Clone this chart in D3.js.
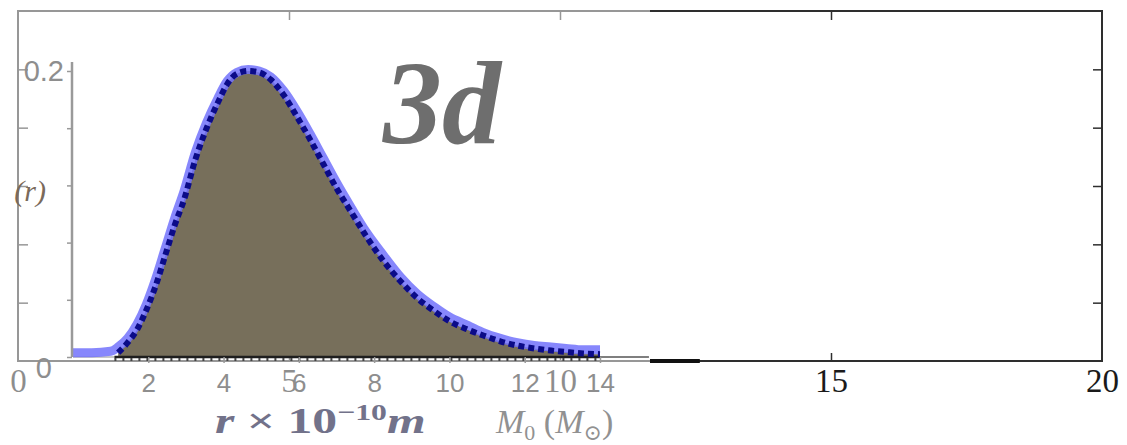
<!DOCTYPE html>
<html>
<head>
<meta charset="utf-8">
<script src="https://cdn.jsdelivr.net/npm/d3@7"></script>
<style>
  body { margin: 0; background: #fff; }
  svg { display: block; }
</style>
</head>
<body>
<svg id="chart" width="1127" height="445"></svg>
<script>
// Outer frame: initial mass axis
const massTicks = [0, 5, 10, 15, 20];
const frameYTicks = [1, 2, 3, 4, 5];

// Inner panel: radial distribution in 3d
const radiusTicks = [2, 4, 6, 8, 10, 12, 14];
const probTicks = [0, 0.04, 0.08, 0.12, 0.16, 0.2];
const probLabels = { 0: "0", 0.2: "0.2" };

// Sampled distribution (dark dotted curve, shaded area)
const simR = [1.2, 1.45, 1.7, 1.95, 2.2, 2.45, 2.7, 2.95, 3.25, 3.55, 3.85, 4.1, 4.35, 4.65, 4.95,
  5.25, 5.6, 5.95, 6.3, 6.65, 7.0, 7.4, 7.8, 8.25, 8.7, 9.15, 9.6, 10.0, 10.5, 10.9, 11.35, 11.8,
  12.25, 12.7, 13.1, 13.55, 14.0];
const simP = [0.003, 0.010, 0.019, 0.033, 0.050, 0.071, 0.092, 0.110, 0.138, 0.160, 0.178, 0.191,
  0.198, 0.200, 0.199, 0.194, 0.183, 0.168, 0.152, 0.135, 0.118, 0.101, 0.084, 0.067, 0.053, 0.041,
  0.032, 0.025, 0.019, 0.015, 0.011, 0.008, 0.006, 0.0045, 0.0035, 0.0025, 0.002];

// Analytic curve (light blue)
const fitR = [0, 0.5, 1.0, 1.2, 1.45, 1.7, 1.95, 2.2, 2.45, 2.7, 2.95, 3.25, 3.55, 3.85, 4.1, 4.35,
  4.65, 4.95, 5.25, 5.6, 5.95, 6.3, 6.65, 7.0, 7.4, 7.8, 8.25, 8.7, 9.15, 9.6, 10.0, 10.5, 10.9,
  11.35, 11.8, 12.25, 12.7, 13.1, 13.55, 14.0];
const fitP = [0.003, 0.003, 0.004, 0.007, 0.013, 0.023, 0.037, 0.055, 0.076, 0.097, 0.116, 0.143,
  0.164, 0.181, 0.193, 0.199, 0.201, 0.200, 0.196, 0.186, 0.172, 0.156, 0.139, 0.122, 0.104, 0.087,
  0.071, 0.056, 0.044, 0.035, 0.028, 0.022, 0.017, 0.013, 0.010, 0.008, 0.007, 0.006, 0.005, 0.005];

const svg = d3.select("#chart");

// ---------- outer frame ----------
const xM = d3.scaleLinear().domain([0, 20]).range([18, 1102]);
const yF = d3.scaleLinear().domain([0, 6]).range([361, 11]);
const frameInk = "#2e2e2e";
const serif = "'Liberation Serif', 'DejaVu Serif', serif";

const outer = svg.append("g");
outer.append("rect")
  .attr("x", xM(0)).attr("y", yF(6))
  .attr("width", xM(20) - xM(0)).attr("height", yF(0) - yF(6))
  .attr("fill", "none").attr("stroke", frameInk).attr("stroke-width", 2);

function styleFrameAxis(g) {
  g.select(".domain").remove();
  g.selectAll(".tick line").attr("stroke", frameInk).attr("stroke-width", 1.5);
  g.selectAll(".tick text").attr("fill", "#1a1a1a")
    .style("font-family", serif).style("font-size", "33px");
}

outer.append("g").attr("transform", `translate(0,${yF(0)})`)
  .call(d3.axisBottom(xM).tickValues(massTicks).tickSize(-8).tickPadding(8))
  .call(styleFrameAxis)
  .selectAll(".tick line").attr("opacity", d => (d === 0 || d === 20) ? 0 : 1);

outer.append("g").attr("transform", `translate(0,${yF(6)})`)
  .call(d3.axisTop(xM).tickValues(massTicks.slice(1, -1)).tickSize(-9).tickFormat(""))
  .call(styleFrameAxis);

outer.append("g").attr("transform", `translate(${xM(20)},0)`)
  .call(d3.axisRight(yF).tickValues(frameYTicks).tickSize(-9).tickFormat(""))
  .call(styleFrameAxis);

outer.append("g").attr("transform", `translate(${xM(0)},0)`)
  .call(d3.axisLeft(yF).tickValues(frameYTicks).tickSize(-10).tickFormat(""))
  .call(styleFrameAxis);

// heavier stroke where the baseline continues past the panel
outer.append("line")
  .attr("x1", xM(11.66)).attr("x2", xM(12.58))
  .attr("y1", yF(0)).attr("y2", yF(0))
  .attr("stroke", "#111").attr("stroke-width", 4);

// x-axis title of the frame: M0 (M_sun)
const mTitle = outer.append("text")
  .attr("x", 496).attr("y", 433)
  .attr("fill", "#222")
  .style("font-family", serif).style("font-size", "34px").style("font-style", "italic");
mTitle.append("tspan").text("M");
mTitle.append("tspan").attr("dy", 7).style("font-size", "22px").style("font-style", "normal").text("0");
mTitle.append("tspan").attr("dy", -7).style("font-style", "normal").text(" (");
mTitle.append("tspan").text("M");
mTitle.append("tspan").attr("dy", 7).style("font-size", "22px").style("font-style", "normal").text("⊙");
mTitle.append("tspan").attr("dy", -7).style("font-style", "normal").text(")");

// lighter wash over the left part, behind the inset panel
svg.append("rect")
  .attr("x", 0).attr("y", 0).attr("width", 650).attr("height", 445)
  .attr("fill", "#fff").attr("opacity", 0.5);

// ---------- inner panel ----------
const xR = d3.scaleLinear().domain([0, 14]).range([73, 600]);
const yP = d3.scaleLinear().domain([0, 0.2]).range([357, 71]);
const sans = "'Liberation Sans', Arial, sans-serif";
const panelGrey = "#8e8e8e";

const inner = svg.append("g");

const sim = simR.map((r, i) => ({ r, p: simP[i] }));
const fit = fitR.map((r, i) => ({ r, p: fitP[i] }));

// light baseline left of the shaded region
inner.append("line")
  .attr("x1", xR(0)).attr("x2", xR(1.1))
  .attr("y1", yP(0)).attr("y2", yP(0))
  .attr("stroke", "#c8c8c8").attr("stroke-width", 2);

// shaded area under the sampled distribution
inner.append("path")
  .datum(sim)
  .attr("fill", "#776f5b")
  .attr("d", d3.area().x(d => xR(d.r)).y0(yP(0)).y1(d => yP(d.p)).curve(d3.curveMonotoneX));

// dark baseline with fine ticks under the area
inner.append("line")
  .attr("x1", xR(1.1)).attr("x2", xR(14))
  .attr("y1", yP(0)).attr("y2", yP(0))
  .attr("stroke", "#1e1e1e").attr("stroke-width", 2.5);
inner.append("line")
  .attr("x1", xR(1.1)).attr("x2", xR(14))
  .attr("y1", yP(0) + 2.5).attr("y2", yP(0) + 2.5)
  .attr("stroke", "#444").attr("stroke-width", 3).attr("stroke-dasharray", "2 6");
inner.append("line")
  .attr("x1", xR(14)).attr("x2", xR(15.3))
  .attr("y1", yP(0)).attr("y2", yP(0))
  .attr("stroke", "#555").attr("stroke-width", 1.5);

// analytic curve
inner.append("path")
  .datum(fit)
  .attr("fill", "none")
  .attr("stroke", "#7272fb").attr("stroke-opacity", 0.85)
  .attr("stroke-width", 9).attr("stroke-linejoin", "round")
  .attr("d", d3.line().x(d => xR(d.r)).y(d => yP(d.p)).curve(d3.curveMonotoneX));

// sampled curve, dotted
inner.append("path")
  .datum(sim)
  .attr("fill", "none")
  .attr("stroke", "#0b0b88")
  .attr("stroke-width", 6).attr("stroke-dasharray", "6 4")
  .attr("d", d3.line().x(d => xR(d.r)).y(d => yP(d.p)).curve(d3.curveMonotoneX));

// x axis of the panel
const xAxisG = inner.append("g").attr("transform", `translate(0,${yP(0)})`)
  .call(d3.axisBottom(xR).tickValues(radiusTicks).tickSize(6).tickPadding(11));
xAxisG.select(".domain").remove();
xAxisG.selectAll(".tick line").attr("stroke", "#999").attr("stroke-width", 1.5);
xAxisG.selectAll(".tick text").attr("fill", panelGrey)
  .style("font-family", sans).style("font-size", "26px");

// y axis of the panel
inner.append("line")
  .attr("x1", xR(0) - 1).attr("x2", xR(0) - 1)
  .attr("y1", yP(0.2) - 9).attr("y2", yP(0))
  .attr("stroke", "#9a9a9a").attr("stroke-width", 2.5);
const yAxisG = inner.append("g").attr("transform", `translate(${xR(0) - 1},0)`)
  .call(d3.axisLeft(yP).tickValues(probTicks).tickSize(5).tickPadding(3)
    .tickFormat(d => probLabels[d] ?? ""));
yAxisG.select(".domain").remove();
yAxisG.selectAll(".tick line").attr("stroke", "#999").attr("stroke-width", 1.5);
yAxisG.selectAll(".tick text").attr("fill", panelGrey)
  .style("font-family", sans).style("font-size", "29px")
  .attr("transform", d => d === 0 ? "translate(-12,11)" : null);

// y-axis title, cut at the page edge
inner.append("text")
  .attr("x", 46).attr("y", 201).attr("text-anchor", "end")
  .attr("fill", "#7a6a5a")
  .style("font-family", serif).style("font-size", "30px").style("font-style", "italic")
  .text("(r)");

// x-axis title of the panel
const rTitle = inner.append("g").attr("transform", "translate(215,433) scale(1.38,1)")
  .append("text").attr("x", 0).attr("y", 0)
  .attr("fill", "#72728a")
  .style("font-family", serif).style("font-size", "36px").style("font-weight", "bold");
rTitle.append("tspan").style("font-style", "italic").text("r");
rTitle.append("tspan").text(" × 10");
rTitle.append("tspan").attr("dy", -13).style("font-size", "23px").text("−10");
rTitle.append("tspan").attr("dy", 13).style("font-style", "italic").text("m");

// panel tag
inner.append("text")
  .attr("x", 383).attr("y", 143)
  .attr("fill", "#6e6e6e")
  .style("font-family", serif).style("font-size", "118px")
  .style("font-style", "italic").style("font-weight", "bold")
  .text("3d");
</script>
</body>
</html>
